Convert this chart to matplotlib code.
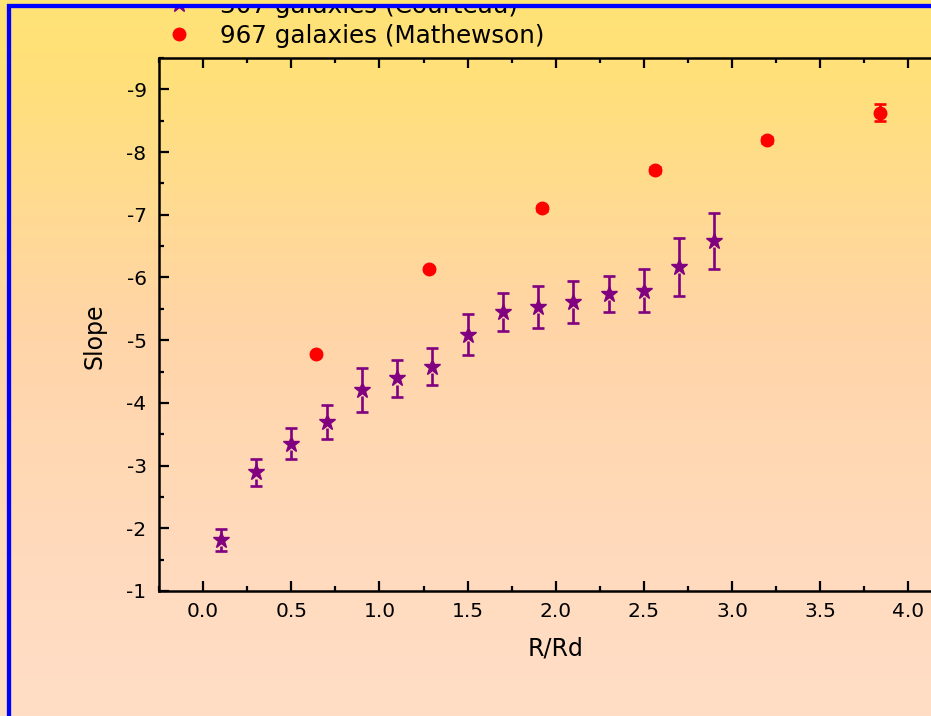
import numpy as np
import matplotlib
matplotlib.use('Agg')
import matplotlib.pyplot as plt
from matplotlib.lines import Line2D
from matplotlib.patches import Rectangle
from matplotlib.ticker import MultipleLocator, FormatStrFormatter

plt.rcParams['font.family'] = ['DejaVu Sans']
plt.rcParams['axes.unicode_minus'] = False

# --- data: slope vs R/Rd ---
# stars: Courteau sample
r_court = np.array([0.1, 0.3, 0.5, 0.7, 0.9, 1.1, 1.3, 1.5, 1.7, 1.9, 2.1, 2.3, 2.5, 2.7, 2.9])
slope_court = np.array([-1.81, -2.89, -3.35, -3.70, -4.21, -4.39, -4.58, -5.09,
                        -5.45, -5.53, -5.61, -5.74, -5.79, -6.17, -6.58])
err_court = np.array([0.18, 0.21, 0.25, 0.27, 0.35, 0.29, 0.29, 0.32,
                      0.31, 0.34, 0.33, 0.29, 0.34, 0.46, 0.45])

# circles: Mathewson sample
r_math = np.array([0.64, 1.28, 1.92, 2.56, 3.20, 3.84])
slope_math = np.array([-4.78, -6.14, -7.10, -7.71, -8.19, -8.63])
err_math = np.array([0.03, 0.03, 0.04, 0.05, 0.05, 0.13])

label_court = '307 galaxies (Courteau)'
label_math = '967 galaxies (Mathewson)'

W, H = 931, 716
purple = '#800080'
red = '#ff0000'

fig = plt.figure(figsize=(W / 100, H / 100), dpi=100)

# vertical yellow -> peach background
stops = [0.0, 0.11, 0.46, 0.84, 1.0]
cols = np.array([[255, 227, 118], [255, 224, 122], [255, 213, 168],
                 [255, 219, 192], [255, 222, 198]]) / 255.0
rows = np.linspace(0, 1, H)
grad = np.stack([np.interp(rows, stops, cols[:, c]) for c in range(3)], axis=1)
grad = np.repeat(grad[:, None, :], 2, axis=1)
bg = fig.add_axes([0, 0, 1, 1], zorder=-1)
bg.imshow(grad, aspect='auto', extent=[0, 1, 0, 1])
bg.axis('off')

# main axes (runs past the right edge)
ax = fig.add_axes([159 / W, 125 / H, 820 / W, 533 / H])
ax.set_facecolor('none')
ax.set_xlim(-0.25, 4.4)
ax.set_ylim(-1, -9.5)

# error bars with a small gap around each star
gap = 0.1
ax.vlines(r_court, slope_court - err_court, slope_court - gap, color=purple, lw=1.9)
ax.vlines(r_court, slope_court + gap, slope_court + err_court, color=purple, lw=1.9)
ax.plot(r_court, slope_court - err_court, ls='none', marker='_', ms=8.5, mew=1.9, color=purple)
ax.plot(r_court, slope_court + err_court, ls='none', marker='_', ms=8.5, mew=1.9, color=purple)
ax.plot(r_court, slope_court, ls='none', marker='*', ms=12, color=purple, label=label_court)

ax.errorbar(r_math, slope_math, yerr=err_math, fmt='none', ecolor=red,
            elinewidth=1.9, capsize=4.2, capthick=1.9)
ax.plot(r_math, slope_math, ls='none', marker='o', ms=9, color=red, label=label_math)

# axes styling
for side in ['left', 'top', 'bottom']:
    ax.spines[side].set_linewidth(1.8)
ax.spines['right'].set_visible(False)
ax.xaxis.set_major_locator(MultipleLocator(0.5))
ax.xaxis.set_minor_locator(MultipleLocator(0.25))
ax.yaxis.set_major_locator(MultipleLocator(1))
ax.yaxis.set_minor_locator(MultipleLocator(0.5))
ax.xaxis.set_major_formatter(FormatStrFormatter('%.1f'))
ax.yaxis.set_major_formatter(FormatStrFormatter('%d'))
ax.tick_params(which='both', direction='in', top=True, right=False, width=1.6, labelsize=14.5)
ax.tick_params(which='major', length=7)
ax.tick_params(which='minor', length=3.5)
ax.tick_params(axis='x', pad=8)
ax.tick_params(axis='y', pad=9)

ax.set_xlabel('R/Rd', fontsize=17, va='center')
ax.xaxis.set_label_coords((556 - 159) / 820, (591 - 648) / 533)
ax.set_ylabel('Slope', fontsize=17, va='center', rotation_mode='anchor')
ax.yaxis.set_label_coords((95 - 159) / 820, (591 - 336) / 533)

ax.legend(loc='upper left', bbox_to_anchor=(167 / W, 1 + 6 / H),
          bbox_transform=fig.transFigure, frameon=False, fontsize=17.7,
          handlelength=1.0, handletextpad=1.15, labelspacing=0.24,
          borderpad=0, borderaxespad=0)

# frame: strip above the blue line, then the blue border
fig.add_artist(Rectangle((0, 1 - 5 / H), 1, 5 / H, transform=fig.transFigure,
                         color=cols[0], zorder=5))
fig.add_artist(Line2D([9 / W, 9 / W], [0, 1 - 4 / H], transform=fig.transFigure,
                      color='#0000ff', lw=3.1, solid_capstyle='butt', zorder=6))
fig.add_artist(Line2D([7 / W, 1], [1 - 6 / H, 1 - 6 / H], transform=fig.transFigure,
                      color='#0000ff', lw=3.1, solid_capstyle='butt', zorder=6))

fig.savefig('out.png', dpi=100)
